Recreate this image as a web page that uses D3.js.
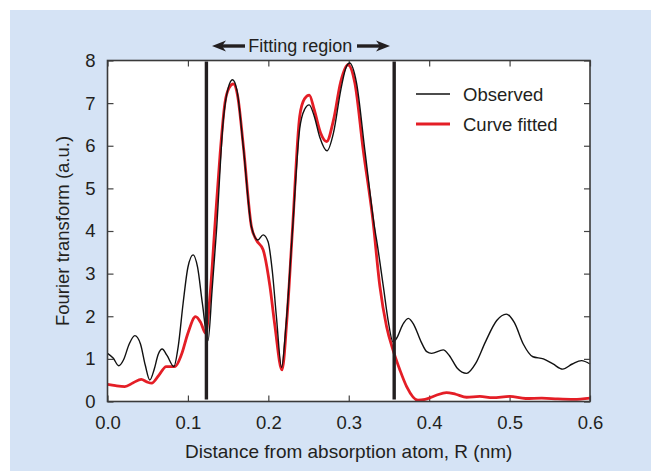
<!DOCTYPE html>
<html>
<head>
<meta charset="utf-8">
<script src="https://cdn.jsdelivr.net/npm/d3@7"></script>
<style>
  html, body { margin: 0; padding: 0; background: #ffffff; }
  svg { display: block; }
  text { font-family: "Liberation Sans", Arial, Helvetica, sans-serif; fill: #231f20; }
</style>
</head>
<body>
<svg id="chart" width="651" height="471"></svg>
<script>
// ---- Data ----
const observedR = [0.000,0.007,0.014,0.020,0.027,0.034,0.041,0.047,0.0526,0.058,0.063,0.068,0.074,0.0825,0.088,0.094,0.100,0.1065,0.112,0.118,0.125,0.130,0.1355,0.144,0.150,0.1555,0.161,0.169,0.179,0.187,0.1935,0.1997,0.205,0.210,0.2165,0.222,0.230,0.239,0.245,0.2508,0.257,0.264,0.273,0.281,0.290,0.296,0.301,0.3097,0.320,0.3325,0.3346,0.343,0.349,0.355,0.360,0.367,0.374,0.381,0.390,0.397,0.403,0.4175,0.425,0.435,0.4465,0.458,0.470,0.484,0.496,0.506,0.517,0.529,0.542,0.554,0.566,0.578,0.5895,0.600];
const observedV = [1.13,1.02,0.84,0.98,1.35,1.545,1.35,0.85,0.505,0.75,1.1,1.23,1.08,0.82,1.3,2.3,3.15,3.44,3.15,2.3,1.43,2.6,4.0,6.6,7.35,7.55,7.3,5.95,4.1,3.79,3.91,3.75,3.05,2.0,0.8,1.8,4.0,6.4,6.85,6.96,6.7,6.2,5.88,6.3,7.3,7.8,7.94,7.47,5.9,4.03,3.79,2.7,1.9,1.40,1.5,1.8,1.95,1.8,1.4,1.17,1.13,1.21,1.08,0.78,0.66,0.9,1.4,1.9,2.05,1.85,1.35,1.05,1.0,0.88,0.76,0.88,0.96,0.88];

const fittedR = [0.000,0.010,0.0215,0.032,0.042,0.049,0.055,0.064,0.073,0.084,0.092,0.100,0.1095,0.116,0.122,0.128,0.1335,0.140,0.146,0.151,0.1565,0.162,0.169,0.179,0.185,0.1935,0.202,0.208,0.217,0.223,0.230,0.239,0.245,0.251,0.257,0.265,0.2725,0.281,0.290,0.299,0.3076,0.318,0.330,0.3387,0.347,0.355,0.3636,0.372,0.386,0.395,0.408,0.4215,0.433,0.4465,0.463,0.479,0.500,0.520,0.540,0.560,0.580,0.600];
const fittedV = [0.40,0.37,0.35,0.44,0.52,0.46,0.43,0.62,0.82,0.82,1.1,1.6,1.99,1.85,1.6,2.6,4.1,5.8,7.0,7.35,7.45,7.15,5.98,4.1,3.79,3.56,2.7,1.8,0.74,1.9,4.03,6.69,7.1,7.19,6.85,6.3,6.1,6.6,7.5,7.9,7.47,5.9,4.26,2.7,1.76,1.21,0.74,0.35,0.03,0.05,0.14,0.21,0.17,0.10,0.12,0.09,0.12,0.07,0.08,0.06,0.05,0.08];

const xTicks = [0.0,0.1,0.2,0.3,0.4,0.5,0.6];
const yTicks = [0,1,2,3,4,5,6,7,8];
const fittingBounds = [0.123, 0.3565];
const seriesNames = ["Observed", "Curve fitted"];
const xTitle = "Distance from absorption atom, R (nm)";
const yTitle = "Fourier transform (a.u.)";
const regionLabel = "Fitting region";

// ---- Layout ----
const svg = d3.select("#chart");
const W = 651, H = 471;
const m = {left: 107.5, right: 651 - 590, top: 60.5, bottom: 471 - 401.5};

svg.append("rect").attr("x", 10).attr("y", 10).attr("width", W - 10).attr("height", H - 10).attr("fill", "#d5e3f5");

const x = d3.scaleLinear().domain([0, 0.6]).range([m.left, W - m.right]);
const y = d3.scaleLinear().domain([0, 8]).range([H - m.bottom, m.top]);

// plot background
svg.append("rect").attr("x", x(0)).attr("y", y(8)).attr("width", x(0.6) - x(0)).attr("height", y(0) - y(8)).attr("fill", "#ffffff");

const tickLen = 6;
const axB = svg.append("g").attr("transform", `translate(0,${y(0)})`)
  .call(d3.axisBottom(x).tickValues(xTicks).tickFormat(d3.format(".1f")).tickSizeInner(-tickLen).tickSizeOuter(0).tickPadding(14));
const axL = svg.append("g").attr("transform", `translate(${x(0)},0)`)
  .call(d3.axisLeft(y).tickValues(yTicks).tickFormat(d3.format("d")).tickSizeInner(-tickLen).tickSizeOuter(0).tickPadding(12));
const axT = svg.append("g").attr("transform", `translate(0,${y(8)})`)
  .call(d3.axisTop(x).tickValues(xTicks).tickFormat("").tickSizeInner(-tickLen).tickSizeOuter(0));
const axR = svg.append("g").attr("transform", `translate(${x(0.6)},0)`)
  .call(d3.axisRight(y).tickValues(yTicks).tickFormat("").tickSizeInner(-tickLen).tickSizeOuter(0));
[axB, axL, axT, axR].forEach(g => {
  g.select(".domain").remove();
  g.selectAll(".tick line").attr("stroke", "#444").attr("stroke-width", 1.2);
  g.selectAll("text").attr("font-size", 18.5).attr("fill", "#231f20")
    .style("font-family", '"Liberation Sans", Arial, sans-serif');
});

// lines
const lineGen = d3.line().x(d => x(d[0])).y(d => y(d[1])).curve(d3.curveMonotoneX);
const obs = observedR.map((r, i) => [r, observedV[i]]);
const fit = fittedR.map((r, i) => [r, fittedV[i]]);

svg.append("path").datum(fit).attr("d", lineGen).attr("fill", "none")
  .attr("stroke", "#e41e26").attr("stroke-width", 2.8).attr("stroke-linejoin", "round");
svg.append("path").datum(obs).attr("d", lineGen).attr("fill", "none")
  .attr("stroke", "#111").attr("stroke-width", 1.4).attr("stroke-linejoin", "round");

// fitting bounds
svg.selectAll(".bound").data(fittingBounds).enter().append("line")
  .attr("x1", d => x(d)).attr("x2", d => x(d))
  .attr("y1", y(8) + 1).attr("y2", y(0) - 2)
  .attr("stroke", "#231f20").attr("stroke-width", 3.4);

// frame
svg.append("rect").attr("x", x(0)).attr("y", y(8)).attr("width", x(0.6) - x(0)).attr("height", y(0) - y(8))
  .attr("fill", "none").attr("stroke", "#3a3a3a").attr("stroke-width", 1.6);

// Fitting region label with arrows
const midX = (x(fittingBounds[0]) + x(fittingBounds[1])) / 2;
const labY = 46;
svg.append("text").attr("x", midX).attr("y", labY).attr("text-anchor", "middle").attr("dominant-baseline", "central")
  .attr("font-size", 18).text(regionLabel);
function arrow(tail, head) {
  const dir = Math.sign(head - tail);
  svg.append("line").attr("x1", tail).attr("x2", head - dir * 8).attr("y1", labY).attr("y2", labY)
    .attr("stroke", "#231f20").attr("stroke-width", 3.4);
  svg.append("path").attr("d", `M${head},${labY} L${head - dir * 14},${labY - 5.5} L${head - dir * 10},${labY} L${head - dir * 14},${labY + 5.5} Z`)
    .attr("fill", "#231f20");
}
arrow(245, 212);
arrow(357, 390);

// legend
const legX = 416, legY = [94, 124];
const legStyles = [{c: "#111", w: 1.4}, {c: "#e41e26", w: 3.2}];
seriesNames.forEach((name, i) => {
  svg.append("line").attr("x1", legX).attr("x2", legX + 34).attr("y1", legY[i]).attr("y2", legY[i])
    .attr("stroke", legStyles[i].c).attr("stroke-width", legStyles[i].w);
  svg.append("text").attr("x", legX + 47).attr("y", legY[i]).attr("dominant-baseline", "central")
    .attr("font-size", 18.5).text(name);
});

// axis titles
svg.append("text").attr("x", (x(0) + x(0.6)) / 2).attr("y", 451).attr("text-anchor", "middle")
  .attr("dominant-baseline", "central").attr("font-size", 19).text(xTitle);
svg.append("text").attr("transform", `translate(62,${(y(0) + y(8)) / 2}) rotate(-90)`).attr("text-anchor", "middle")
  .attr("dominant-baseline", "central").attr("font-size", 18.5).text(yTitle);
</script>
</body>
</html>
